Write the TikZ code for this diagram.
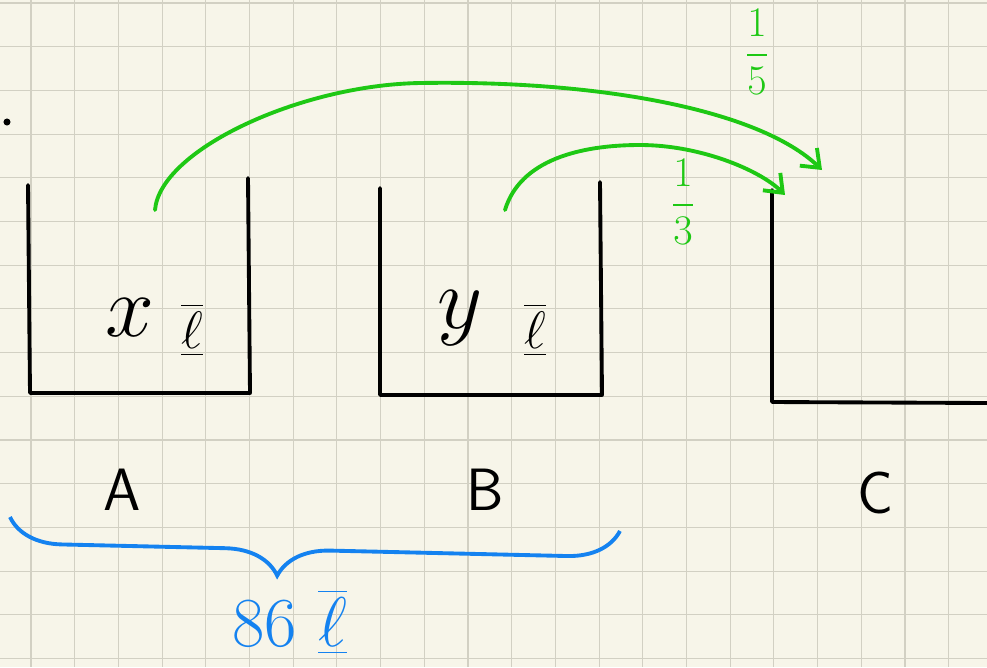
\documentclass[tikz,border=0pt]{standalone}
\usepackage{fix-cm}
\usepackage{amsmath}
\usetikzlibrary{arrows.meta,decorations.pathreplacing}
\definecolor{paper}{RGB}{247,245,233}
\definecolor{gridc}{RGB}{210,208,195}
\definecolor{pen}{RGB}{30,200,20}
\definecolor{ink}{RGB}{20,130,240}
\newcommand{\lit}{\underline{\overline{\ell}}}

\begin{document}
\begin{tikzpicture}[x=0.02cm,y=-0.02cm,
    wall/.style={line width=2.2pt,line cap=round,line join=round},
    flow/.style={pen,line width=2.2pt,line cap=round,-{Straight Barb[length=9pt,width=14pt]}},
    tank/.style={font=\sffamily\fontsize{34}{40}\selectfont},
    var/.style={font=\fontsize{50}{56}\selectfont},
    unit/.style={font=\fontsize{30}{34}\selectfont},
    part/.style={pen,font=\fontsize{24}{28}\selectfont}]
  \fill[paper] (0,0) rectangle (987,667);
  \useasboundingbox (0,0) rectangle (987,667);
  \foreach \i in {0,...,22}
    \draw[gridc,line width=0.6pt] ({-12.7+43.7*\i},0) -- ({-12.7+43.7*\i},667);
  \foreach \j in {0,...,15}
    \draw[gridc,line width=0.6pt] (0,{3+43.7*\j}) -- (987,{3+43.7*\j});
  \fill (7,122) circle (2pt);
  % tanks
  \draw[wall] (28,185) -- (30,393) -- (250,393) -- (248,178);
  \draw[wall] (380,188) -- (380,395) -- (602,395) -- (600,182);
  \draw[wall] (772,190) -- (772,402) -- (987,403);
  \node[var] (x) at (130,318) {$x$};
  \node[unit] (xl) at (192,330) {$\lit$};
  \node[var] (y) at (460,318) {$y$};
  \node[unit] (yl) at (535,330) {$\lit$};
  \node[tank] (A) at (122,490) {A};
  \node[tank] (B) at (485,490) {B};
  \node[tank] (C) at (875,493) {C};
  % flows into C
  \coordinate (outA) at (155,210);
  \coordinate (outB) at (505,210);
  \coordinate (inC) at (822,170);
  \coordinate (inCb) at (785,195);
  \draw[flow] (outA) .. controls (160,150) and (300,85) .. (420,83)
    .. controls (600,80) and (760,110) .. (inC);
  \draw[flow] (outB) .. controls (520,160) and (580,145) .. (640,145)
    .. controls (700,145) and (760,170) .. (inCb);
  \node[part] (fA) at (757,52) {$\dfrac{1}{5}$};
  \node[part] (fB) at (683,202) {$\dfrac{1}{3}$};
  % total
  \coordinate (braceL) at (10,517);
  \coordinate (braceR) at (620,531);
  \draw[ink,line width=2.2pt,decorate,decoration={brace,mirror,amplitude=1.05cm,aspect=0.44}] (braceL) -- (braceR);
  \node[ink,font=\fontsize{40}{46}\selectfont] (tot) at (290,622) {$86\ \lit$};
\end{tikzpicture}
\end{document}
